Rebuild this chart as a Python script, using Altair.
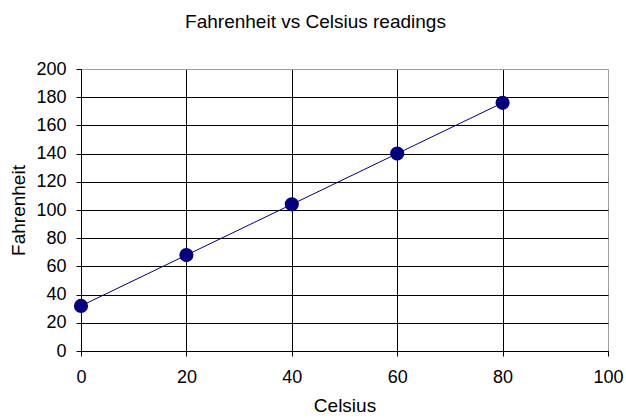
import altair as alt
import pandas as pd

# Temperature readings
celsius = [0, 20, 40, 60, 80]
fahrenheit = [32, 68, 104, 140, 176]

df = pd.DataFrame({"Celsius": celsius, "Fahrenheit": fahrenheit})

x_ticks = [0, 20, 40, 60, 80, 100]
y_ticks = [0, 20, 40, 60, 80, 100, 120, 140, 160, 180, 200]

FONT = "Liberation Sans"
NAVY = "#000080"

x_enc = alt.X(
    "Celsius:Q",
    scale=alt.Scale(domain=[0, 100], nice=False, zero=False),
    axis=alt.Axis(
        values=x_ticks, title="Celsius", format="d", labelFlush=False,
        gridColor={"condition": {"test": "datum.value === 100", "value": "#a0a0a0"}, "value": "#000000"},
        labelPadding=12, titlePadding=10,
    ),
)
y_enc = alt.Y(
    "Fahrenheit:Q",
    scale=alt.Scale(domain=[0, 200], nice=False),
    axis=alt.Axis(
        values=y_ticks, title="Fahrenheit", format="d", labelFlush=False,
        gridColor={"condition": {"test": "datum.value === 200", "value": "#a0a0a0"}, "value": "#000000"},
        labelPadding=10, titlePadding=7,
    ),
)

line = alt.Chart(df).mark_line(color=NAVY, strokeWidth=1).encode(x=x_enc, y=y_enc)
points = alt.Chart(df).mark_circle(color=NAVY, size=200, opacity=1).encode(x=x_enc, y=y_enc)

chart = (
    alt.layer(line, points)
    .properties(
        width=527,
        height=282,
        title=alt.TitleParams(
            "Fahrenheit vs Celsius readings",
            font=FONT, fontSize=19, fontWeight="normal", color="#000000",
            anchor="middle", dx=-29, offset=13, baseline="alphabetic",
        ),
        autosize=alt.AutoSizeParams(type="none"),
        padding={"left": 81, "top": 69, "right": 18, "bottom": 67},
        background="white",
    )
    .configure_view(stroke="#a0a0a0", strokeWidth=1)
    .configure_axis(
        labelFont=FONT, labelFontSize=18, labelColor="#000000",
        titleFont=FONT, titleFontSize=19, titleFontWeight="normal", titleColor="#000000",
        domainColor="#000000", tickColor="#000000", tickSize=5,
        gridOpacity=1, gridWidth=1,
    )
)

chart.save("out.html", embed_options={"renderer": "svg", "actions": False})
